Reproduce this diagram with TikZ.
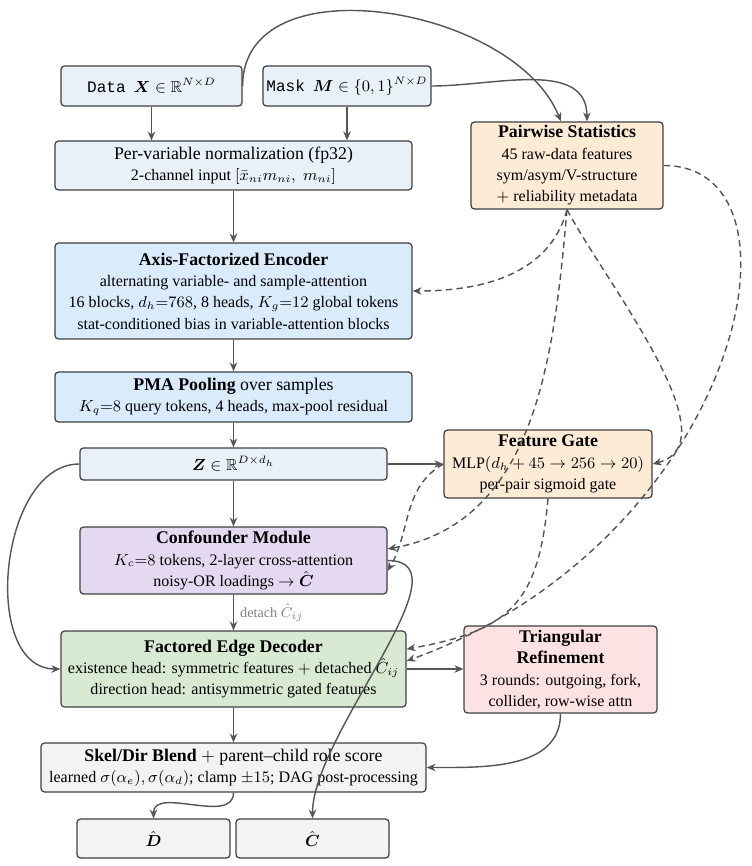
\documentclass[tikz,border=0pt]{standalone}
\usepackage{amsmath,amssymb}
\usepackage{fontspec}
\setmainfont{Liberation Serif}
\setmonofont{Liberation Mono}
\usetikzlibrary{arrows.meta}

\definecolor{inputfill}{RGB}{232,240,248}
\definecolor{encfill}{RGB}{218,235,252}
\definecolor{statfill}{RGB}{253,235,213}
\definecolor{conffill}{RGB}{228,217,240}
\definecolor{decfill}{RGB}{217,234,211}
\definecolor{trifill}{RGB}{253,226,228}
\definecolor{outfill}{RGB}{243,243,243}
\definecolor{boxline}{RGB}{64,64,64}
\definecolor{wire}{RGB}{85,85,85}

\begin{document}
\begin{tikzpicture}[x=0.5618pt, y=0.5618pt, >={Stealth[length=5pt, width=4.2pt, inset=1.6pt]},
    box/.style={draw=boxline, line width=0.7pt, rounded corners=2pt, align=center, inner sep=2pt},
    flow/.style={->, draw=wire, line width=0.8pt},
    hint/.style={->, draw=wire, line width=0.8pt, dash pattern=on 3.6pt off 2.4pt}]
    \useasboundingbox (0,0) rectangle (752,-866);

    % inputs
    \node[box, fill=inputfill, minimum width=101.7pt, minimum height=22.5pt] (data) at (151.5,-86)
        {\small\texttt{Data}~~$\boldsymbol{X}\in\mathbb{R}^{N\times D}$};
    \node[box, fill=inputfill, minimum width=94.4pt, minimum height=22.5pt] (mask) at (347,-86)
        {\small\texttt{Mask}~~$\boldsymbol{M}\in\{0,1\}^{N\times D}$};
    \node[box, fill=inputfill, minimum width=200.6pt, minimum height=27.5pt] (norm) at (233.5,-165.5)
        {Per-variable normalization (fp32)\\ \small 2-channel input $[\bar{x}_{ni}m_{ni},\; m_{ni}]$};

    % side branch: pairwise statistics
    \node[box, fill=statfill, minimum width=107.9pt, minimum height=48.9pt] (pair) at (567,-165.5)
        {\textbf{Pairwise Statistics}\\ \small 45 raw-data features\\ \small sym/asym/V-structure\\
         \small $+$ reliability metadata};

    % encoder and pooling
    \node[box, fill=encfill, minimum width=200.6pt, minimum height=53.9pt] (enc) at (233.5,-291)
        {\textbf{Axis-Factorized Encoder}\\ \small alternating variable- and sample-attention\\
         \small 16 blocks, $d_h{=}768$, 8 heads, $K_g{=}12$ global tokens\\
         \small stat-conditioned bias in variable-attention blocks};
    \node[box, fill=encfill, minimum width=200.6pt, minimum height=28.1pt] (pma) at (233.5,-397)
        {\textbf{PMA Pooling} over samples\\ \small $K_q{=}8$ query tokens, 4 heads, max-pool residual};
    \node[box, fill=inputfill, minimum width=172.5pt, minimum height=18pt] (zbox) at (233.5,-464)
        {\small $\boldsymbol{Z}\in\mathbb{R}^{D\times d_h}$};
    \node[box, fill=statfill, minimum width=116.9pt, minimum height=38.2pt] (gate) at (548,-464)
        {\textbf{Feature Gate}\\ \small MLP$(d_h+45\rightarrow 256\rightarrow 20)$\\ \small per-pair sigmoid gate};

    % confounder and decoder
    \node[box, fill=conffill, minimum width=172.5pt, minimum height=37.6pt] (conf) at (233.5,-560.5)
        {\textbf{Confounder Module}\\ \small $K_c{=}8$ tokens, 2-layer cross-attention\\
         \small noisy-OR loadings $\rightarrow\hat{\boldsymbol{C}}$};
    \node[box, fill=decfill, minimum width=193.8pt, minimum height=42.7pt] (dec) at (233.5,-669)
        {\textbf{Factored Edge Decoder}\\ \small existence head: symmetric features $+$ detached $\hat{C}_{ij}$\\
         \small direction head: antisymmetric gated features};
    \node[box, fill=trifill, minimum width=108.4pt, minimum height=48.9pt] (tri) at (560.5,-669.5)
        {\textbf{Triangular}\\ \textbf{Refinement}\\ \small 3 rounds: outgoing, fork,\\ \small collider, row-wise attn};

    % blend and outputs
    \node[box, fill=outfill, minimum width=216.3pt, minimum height=27.5pt] (blend) at (233.5,-767.5)
        {\textbf{Skel/Dir Blend} $+$ parent--child role score\\
         \small learned $\sigma(\alpha_e),\sigma(\alpha_d)$; clamp $\pm15$; DAG post-processing};
    \node[box, fill=outfill, minimum width=86pt, minimum height=21.9pt] (dhat) at (153.5,-838.5)
        {\small $\hat{\boldsymbol{D}}$};
    \node[box, fill=outfill, minimum width=86pt, minimum height=21.9pt] (chat) at (312.5,-838.5)
        {\small $\hat{\boldsymbol{C}}$};

    % main flow
    \draw[flow] (data.south) -- (data.south |- norm.north);
    \draw[flow] (mask.south) -- (mask.south |- norm.north);
    \draw[flow] (norm) -- (enc);
    \draw[flow] (enc) -- (pma);
    \draw[flow] (pma) -- (zbox);
    \draw[flow] (zbox) -- (conf);
    \draw[flow] (conf) -- node[right, font=\footnotesize, text=gray] {detach $\hat{C}_{ij}$} (dec);
    \draw[flow] (dec) -- (blend);
    \draw[flow] (zbox) -- (gate);
    \draw[flow] (dec.east) -- (dec.east -| tri.west);

    % curved solid connectors
    \draw[flow] (data.east) to[out=90, in=112] ([xshift=-3.4pt]pair.north);
    \draw[flow] (mask.east) to[out=0, in=90] ([xshift=11.2pt]pair.north);
    \draw[flow] (zbox.west) to[out=180, in=180] (dec.west);
    \draw[flow] (conf.east) to[out=0, in=90, looseness=0.8] (chat.north);
    \draw[flow] (tri.south) to[out=-90, in=0] (blend.east);
    \draw[flow] (blend.south) to[out=-90, in=90] (dhat.north);

    % dashed statistic / gate feeds
    \draw[hint] (pair.south) to[out=-105, in=0] (enc.east);
    \draw[hint] (pair.south) to[out=-95, in=10] ([yshift=6.5pt]conf.east);
    \draw[hint] (pair.south) to[out=-62, in=15, looseness=0.8] (gate.east);
    \draw[hint] (pair.east) .. controls +(157,0) and +(332,120) .. ([yshift=4.5pt]dec.east);
    \draw[hint] (gate.west) to[out=210, in=60] ([yshift=-5.9pt]conf.east);
    \draw[hint] (gate.south) to[out=-95, in=10, looseness=1.3] ([yshift=11.2pt]dec.east);
\end{tikzpicture}
\end{document}
